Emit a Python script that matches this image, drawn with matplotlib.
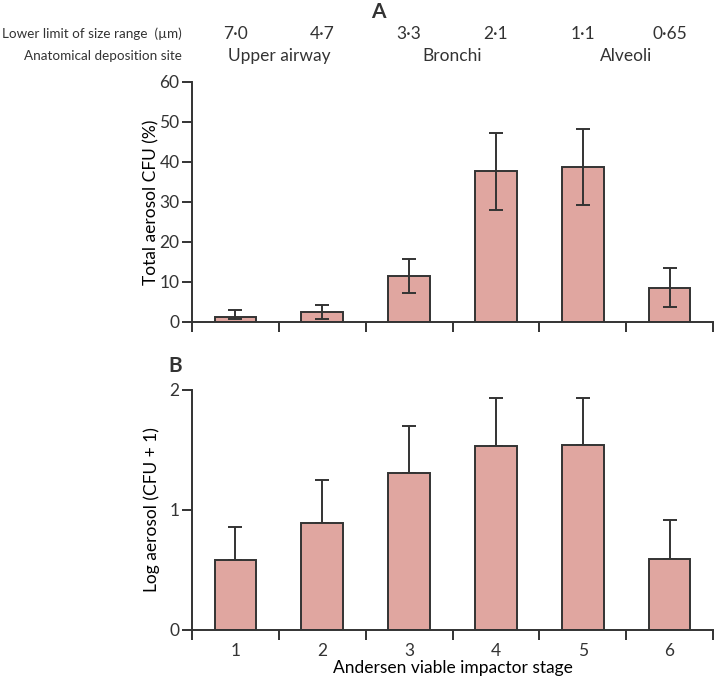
import matplotlib
matplotlib.use("Agg")
import matplotlib.pyplot as plt
import matplotlib.transforms as mtransforms
from matplotlib import font_manager
import numpy as np

# ---------------- data ----------------
stages = ["1", "2", "3", "4", "5", "6"]
size_limits = ["7·0", "4·7", "3·3", "2·1", "1·1", "0·65"]
sites = ["Upper airway", "Bronchi", "Alveoli"]

pct_values = [1.3, 2.4, 11.5, 37.8, 38.8, 8.6]
pct_err_upper = [3.1, 4.2, 15.8, 47.3, 48.3, 13.4]
pct_err_lower = [0.7, 0.7, 7.2, 27.9, 29.3, 3.7]

log_values = [0.58, 0.89, 1.31, 1.53, 1.54, 0.59]
log_err_upper = [0.86, 1.25, 1.70, 1.93, 1.93, 0.92]

# ---------------- style ----------------
names = {f.name for f in font_manager.fontManager.ttflist}
fam = [f for f in ["Liberation Sans Narrow", "Lato", "Open Sans"] if f in names]
plt.rcParams["font.family"] = fam + ["DejaVu Sans"]
txt = "#333333"
bar_fill = "#E0A6A0"
edge = "#333333"
plt.rcParams["text.color"] = txt
plt.rcParams["axes.edgecolor"] = edge
plt.rcParams["xtick.color"] = edge
plt.rcParams["ytick.color"] = edge
plt.rcParams["xtick.labelcolor"] = txt
plt.rcParams["ytick.labelcolor"] = txt

FS = 12.5
W, H = 714, 680
fig = plt.figure(figsize=(W / 100, H / 100), dpi=100)

left = 192 / W
width = (713 - 192) / W
axA = fig.add_axes([left, 1 - 322 / H, width, (322 - 82) / H])
axB = fig.add_axes([left, 1 - 630 / H, width, (630 - 390) / H])

x = np.arange(1, len(stages) + 1)
bw = 0.48
LW = 1.4


def style(ax):
    ax.spines["top"].set_visible(False)
    ax.spines["right"].set_visible(False)
    ax.spines["left"].set_linewidth(LW)
    ax.spines["bottom"].set_linewidth(LW)
    ax.set_xlim(0.5, len(stages) + 0.5)
    ax.set_xticks(np.arange(0.5, len(stages) + 1, 1.0))
    ax.set_xticklabels([])
    ax.tick_params(axis="x", which="major", length=7, width=LW, direction="out")
    ax.tick_params(axis="y", length=7, width=LW, direction="out", labelsize=FS, pad=2)
    ax.set_xticks(x, minor=True)
    ax.set_xticklabels(stages, minor=True)
    ax.tick_params(axis="x", which="minor", length=0, labelsize=FS, pad=9)


# Panel A
axA.bar(x, pct_values, width=bw, color=bar_fill, edgecolor=edge, linewidth=LW, zorder=2)
lo = np.array(pct_values) - np.array(pct_err_lower)
hi = np.array(pct_err_upper) - np.array(pct_values)
axA.errorbar(x, pct_values, yerr=[lo, hi], fmt="none", ecolor=edge, elinewidth=LW,
             capsize=5, capthick=LW, zorder=3)
style(axA)
axA.set_xticklabels([], minor=True)
axA.set_ylim(0, 60)
axA.set_yticks(range(0, 61, 10))
axA.set_ylabel("Total aerosol CFU (%)", fontsize=FS, labelpad=0)

# Panel B
axB.bar(x, log_values, width=bw, color=bar_fill, edgecolor=edge, linewidth=LW, zorder=2)
hiB = np.array(log_err_upper) - np.array(log_values)
axB.errorbar(x, log_values, yerr=[np.zeros(len(x)), hiB], fmt="none", ecolor=edge,
             elinewidth=LW, capsize=5, capthick=LW, zorder=1)
style(axB)
axB.set_ylim(0, 2)
axB.set_yticks([0, 1, 2])
axB.set_ylabel("Log aerosol (CFU + 1)", fontsize=FS, labelpad=7)
axB.set_xlabel("Andersen viable impactor stage", fontsize=FS)
axB.xaxis.label.set_va("center")
axB.xaxis.set_label_coords(0.5, -(668 - 630) / 240)

# Panel letters
fig.text(378 / W, 1 - 12 / H, "A", fontsize=15, fontweight="bold", ha="center", va="center")
fig.text(175 / W, 1 - 366 / H, "B", fontsize=15, fontweight="bold", ha="center", va="center")

# Header rows above panel A
h1 = fig.text(182 / W, 1 - 34 / H, "Lower limit of size range  (µm)", fontsize=FS,
              ha="right", va="center")
h2 = fig.text(182 / W, 1 - 56 / H, "Anatomical deposition site", fontsize=FS,
              ha="right", va="center")
# shrink header font so that the longest line fits within the left margin
fig.canvas.draw()
r = fig.canvas.get_renderer()
wpx = h1.get_window_extent(r).width
if wpx > 180:
    fs_new = FS * 180 / wpx
    h1.set_fontsize(fs_new)
    h2.set_fontsize(fs_new)

blend = mtransforms.blended_transform_factory(axA.transData, fig.transFigure)
for xi, s in zip(x, size_limits):
    axA.text(xi, 1 - 34 / H, s, transform=blend, fontsize=FS, ha="center", va="center")
for xi, s in zip([1.5, 3.5, 5.5], sites):
    axA.text(xi, 1 - 56 / H, s, transform=blend, fontsize=FS, ha="center", va="center")

fig.savefig("out.png", dpi=100)
